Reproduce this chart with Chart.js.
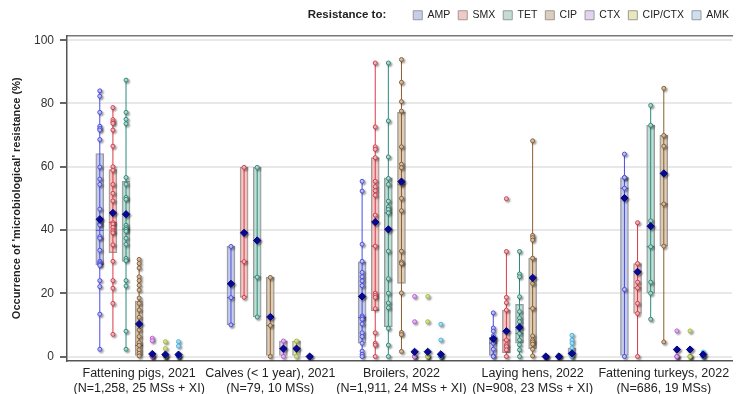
<!DOCTYPE html>
<html>
<head>
<meta charset="utf-8">
<script src="https://cdn.jsdelivr.net/npm/chart.js@4.4.1/dist/chart.umd.min.js"></script>
<style>
  html, body { margin: 0; padding: 0; background: #fff; }
  #wrap { width: 737px; height: 394px; position: relative; }
</style>
</head>
<body>
<div id="wrap"><canvas id="grafica"></canvas></div>
<script>
// Production types (x axis groups)
const groupLabels = [
    ['Fattening pigs, 2021', '(N=1,258, 25 MSs + XI)'],
    ['Calves (< 1 year), 2021', '(N=79, 10 MSs)'],
    ['Broilers, 2022', '(N=1,911, 24 MSs + XI)'],
    ['Laying hens, 2022', '(N=908, 23 MSs + XI)'],
    ['Fattening turkeys, 2022', '(N=686, 19 MSs)']
];
const drugs = ['AMP', 'SMX', 'TET', 'CIP', 'CTX', 'CIP/CTX', 'AMK'];
const yTicks = [0, 20, 40, 60, 80, 100];

// Country-level resistance (%) per group, one list per antimicrobial
const ampPoints = [
    [84.0, 82.3, 77.2, 72.8, 72.1, 71.6, 68.6, 59.9, 56.1, 54.4, 46.6, 42.9, 41.9, 41.6, 37.9, 37.4, 33.6, 30.1, 29.6, 29.2, 28.8, 24.0, 22.1, 13.4, 2.3],
    [34.8, 18.6, 10.0],
    [55.4, 52.3, 35.5, 30.1, 26.6, 25.2, 23.9, 22.4, 12.8, 12.3, 11.8, 10.3, 7.5, 6.3, 4.2, 1.7, 0.7, 0],
    [13.8, 9.0, 8.0, 6.5, 5.2, 4.2, 2.3, 0.2, 0],
    [64.0, 56.6, 56.6, 53.2, 21.2, 0]
];
const smxPoints = [
    [78.7, 74.9, 74.2, 73.7, 71.6, 66.5, 60.0, 58.9, 54.4, 51.6, 49.2, 42.3, 41.9, 40.8, 39.7, 39.1, 35.3, 30.1, 24.0, 21.6, 16.8, 7.0],
    [59.8, 30.0, 18.7],
    [92.8, 72.6, 66.3, 65.5, 62.9, 55.4, 53.7, 52.4, 51.0, 44.7, 34.9, 20.0, 19.3, 18.7, 15.1, 7.5, 4.2, 3.6, 0],
    [49.9, 33.2, 18.7, 17.0, 14.7, 5.2, 3.7, 3.1, 2.1, 0],
    [42.3, 29.4, 23.5, 21.7, 16.8, 13.6, 0]
];
const tetPoints = [
    [87.4, 77.2, 75.0, 73.6, 56.6, 54.5, 50.3, 49.7, 41.5, 40.7, 40.2, 39.6, 37.4, 35.5, 31.0, 30.3, 24.0, 22.3, 8.0, 2.3],
    [59.8, 25.1, 12.5],
    [92.8, 74.5, 63.1, 56.3, 54.4, 49.1, 47.3, 46.5, 45.4, 33.3, 24.6, 20.0, 16.9, 15.4, 8.9, 3.6, 0],
    [33.2, 26.1, 25.2, 18.9, 14.2, 12.2, 11.0, 7.3, 5.2, 3.7, 2.1, 0],
    [79.4, 73.1, 42.9, 34.7, 23.5, 20.0, 11.8]
];
const cipPoints = [
    [30.7, 29.4, 28.0, 25.2, 24.0, 22.5, 21.0, 18.5, 16.8, 14.7, 12.4, 8.4, 6.3, 4.4, 3.5, 2.1, 1.0, 0.2],
    [25.0, 9.8, 0],
    [93.9, 86.7, 80.6, 77.6, 66.3, 60.8, 59.7, 54.5, 50.0, 46.1, 33.3, 29.9, 29.4, 20.1, 7.6, 6.9, 1.6],
    [68.2, 38.3, 37.6, 36.8, 31.1, 23.1, 15.2, 6.5, 5.2, 4.6, 3.9, 2.3, 0.2],
    [84.8, 69.9, 66.5, 48.2, 34.9, 4.6]
];
const ctxPoints = [
    [5.8, 5.0, 0, 0, 0],
    [4.9, 0],
    [19.0, 11.0, 0, 0, 0],
    [0, 0, 0],
    [8.1, 0, 0, 0]
];
const cipCtxPoints = [
    [4.7, 2.5, 0, 0, 0],
    [4.9, 0],
    [19.0, 11.0, 0, 0, 0],
    [0.4, 0, 0],
    [8.1, 0, 0, 0]
];
const amkPoints = [
    [4.7, 3.3, 0, 0, 0],
    [0],
    [10.2, 5.2, 0, 0, 0],
    [6.7, 5.2, 4.2, 2.7, 0, 0],
    [1.4, 0, 0]
];
const pointLists = [ampPoints, smxPoints, tetPoints, cipPoints, ctxPoints, cipCtxPoints, amkPoints];

// Box statistics, rows = antimicrobial, columns = group
const boxLow = [
    [29.0, 10.0, 4.2, 0, 0],
    [32.8, 18.7, 14.5, 1.2, 13.6],
    [30.1, 12.5, 9.4, 4.2, 20.0],
    [0, 0, 23.1, 2.5, 34.9],
    [null, 0, null, null, null],
    [null, 0, null, null, null],
    [null, null, null, 0, null]
];
const boxHigh = [
    [64.2, 34.8, 29.9, 6.1, 56.6],
    [59.1, 59.8, 62.9, 14.7, 29.4],
    [55.4, 59.8, 56.5, 16.5, 73.1],
    [17.6, 25.0, 77.2, 31.1, 69.9],
    [null, 4.9, null, null, null],
    [null, 4.9, null, null, null],
    [null, null, null, 2.7, null]
];
const medians = [
    [39.9, 18.6, 12.3, 4.2, 53.2],
    [42.4, 30.0, 34.9, 5.2, 21.7],
    [40.2, 25.1, 45.4, 7.3, 34.7],
    [3.5, 9.8, 54.5, 15.2, 48.2],
    [null, 2.5, null, null, null],
    [null, 2.5, null, null, null],
    [null, null, null, 1.0, null]
];
const whiskerLow = [
    [2.3, 10.0, 0, 0, 0],
    [7.0, 18.7, 0, 0, 0],
    [2.3, 12.5, 0, 0, 11.8],
    [0, 0, 1.6, 0.2, 4.6],
    [null, 0, null, null, null],
    [null, 0, null, null, null],
    [null, null, null, 0, null]
];
const whiskerHigh = [
    [84.0, 34.8, 55.4, 13.8, 64.0],
    [78.7, 59.8, 92.8, 33.2, 42.3],
    [87.4, 59.8, 92.8, 33.2, 79.4],
    [30.7, 25.0, 93.9, 68.2, 84.8],
    [null, 4.9, null, null, null],
    [null, 4.9, null, null, null],
    [null, null, null, 6.7, null]
];
const means = [
    [43.4, 23.0, 19.0, 5.6, 50.1],
    [45.4, 39.1, 42.5, 8.0, 26.8],
    [45.0, 36.7, 40.2, 9.2, 41.2],
    [10.3, 12.5, 55.3, 24.9, 57.9],
    [0.8, 2.5, 1.5, 0, 2.2],
    [0.6, 2.5, 1.5, 0, 2.2],
    [0.6, 0, 0.7, 1.0, 0.6]
];

// Colours per antimicrobial
const lineColors = ['#4b4be6', '#dc3848', '#2a8c7a', '#8b5e30', '#c257e0', '#a3be2e', '#3db4e6'];
const boxColors = ['rgba(168,180,222,0.65)', 'rgba(238,170,166,0.65)', 'rgba(160,204,192,0.65)', 'rgba(204,178,148,0.65)', 'rgba(214,186,236,0.65)', 'rgba(222,220,150,0.65)', 'rgba(176,208,234,0.65)'];
const dotFills = ['#d6d6fa', '#f6d0d4', '#cfe8e2', '#e4d4c2', '#efd6f8', '#e9f0c6', '#d0eefa'];
const FONT = "'Liberation Sans', Arial, Helvetica, sans-serif";

const SLOT = 10; // x units per group, 7 used
function xPos(g, d) { return g * SLOT + d; }
const centers = groupLabels.map((_, g) => xPos(g, 3));

const datasets = [];

drugs.forEach((name, d) => {
    // IQR box
    const boxData = [];
    groupLabels.forEach((_, g) => {
        if (boxLow[d][g] == null) return;
        boxData.push({ x: xPos(g, d), y: [boxLow[d][g], boxHigh[d][g]] });
    });
    datasets.push({
        type: 'bar', label: name, isBox: true, order: 5,
        data: boxData, grouped: false, barThickness: 8,
        backgroundColor: boxColors[d], borderColor: '#9a9a9a',
        borderWidth: 1, borderSkipped: false
    });

    // whiskers
    const wData = [];
    groupLabels.forEach((_, g) => {
        if (whiskerLow[d][g] == null) return;
        wData.push({ x: xPos(g, d), y: whiskerLow[d][g] });
        wData.push({ x: xPos(g, d), y: whiskerHigh[d][g] });
        wData.push({ x: xPos(g, d), y: null });
    });
    datasets.push({
        type: 'line', label: name + ' range', order: 4,
        data: wData, borderColor: lineColors[d], borderWidth: 1,
        pointRadius: 0, spanGaps: false, fill: false
    });

    // median tick
    const mData = [];
    groupLabels.forEach((_, g) => {
        if (medians[d][g] == null) return;
        mData.push({ x: xPos(g, d), y: medians[d][g] });
    });
    datasets.push({
        type: 'scatter', label: name + ' median', order: 3,
        data: mData, pointStyle: 'line', pointRadius: 4,
        borderColor: lineColors[d], borderWidth: 1
    });

    // one dot per country
    const pData = [];
    pointLists[d].forEach((vals, g) => {
        vals.forEach(v => pData.push({ x: xPos(g, d), y: v }));
    });
    datasets.push({
        type: 'scatter', label: name + ' countries', order: 2,
        data: pData, pointStyle: 'circle', pointRadius: 2,
        borderColor: lineColors[d], backgroundColor: dotFills[d], borderWidth: 1,
        shadow: 'rgba(0,0,0,0.35)'
    });
});

// mean diamonds for all antimicrobials
const meanData = [];
drugs.forEach((_, d) => {
    groupLabels.forEach((_, g) => meanData.push({ x: xPos(g, d), y: means[d][g] }));
});
datasets.push({
    type: 'scatter', label: 'mean', order: 1,
    data: meanData, pointStyle: 'rectRot', pointRadius: 3.6,
    backgroundColor: '#0a0aa6', borderColor: '#00007a', borderWidth: 1,
    shadow: 'rgba(0,0,0,0.45)'
});

// soft drop shadow behind markers
const sombra = {
    id: 'sombra',
    beforeDatasetDraw(chart, args) {
        const ds = chart.data.datasets[args.index];
        if (!ds.shadow) return;
        const c = chart.ctx;
        c.save();
        c.shadowColor = ds.shadow;
        c.shadowOffsetX = 1.5;
        c.shadowOffsetY = 1.5;
        c.shadowBlur = 2;
    },
    afterDatasetDraw(chart, args) {
        if (chart.data.datasets[args.index].shadow) chart.ctx.restore();
    }
};

// "Resistance to:" caption in front of the legend
const tituloLeyenda = {
    id: 'tituloLeyenda',
    afterDraw(chart) {
        const boxes = chart.legend && chart.legend.legendHitBoxes;
        if (!boxes || !boxes.length) return;
        const c = chart.ctx;
        c.save();
        c.font = 'bold 11.5px ' + FONT;
        c.fillStyle = '#222';
        c.textAlign = 'right';
        c.textBaseline = 'middle';
        c.fillText('Resistance to:', boxes[0].left - 27, boxes[0].top + boxes[0].height / 2);
        c.restore();
    }
};

const ctx = document.getElementById('grafica').getContext('2d');
const grafica = new Chart(ctx, {
    type: 'scatter',
    data: { datasets: datasets },
    options: {
        responsive: true,
        maintainAspectRatio: false,
        animation: false,
        layout: { padding: { top: 2, left: 0, right: 0, bottom: 0 } },
        plugins: {
            tooltip: { enabled: false },
            legend: {
                position: 'top',
                align: 'end',
                labels: {
                    filter: (item, data) => data.datasets[item.datasetIndex].isBox,
                    boxWidth: 9,
                    boxHeight: 9,
                    padding: 8,
                    color: '#222',
                    font: { family: FONT, size: 10.5 }
                }
            }
        },
        scales: {
            x: {
                type: 'linear',
                min: -2.5,
                max: 48.2,
                offset: false,
                grid: { display: false, drawTicks: false },
                border: { color: '#555', width: 1.5 },
                afterBuildTicks: (axis) => { axis.ticks = centers.map(v => ({ value: v })); },
                afterFit: (axis) => { axis.height = 33; },
                ticks: {
                    autoSkip: false,
                    maxRotation: 0,
                    minRotation: 0,
                    padding: 5,
                    color: '#222',
                    font: { family: FONT, size: 12.5 },
                    callback: (value, index) => groupLabels[index]
                }
            },
            xTop: {
                type: 'linear',
                position: 'top',
                min: -2.5,
                max: 48.2,
                display: true,
                grid: { display: false, drawTicks: false },
                ticks: { display: false },
                border: { color: '#777', width: 1.5 },
                afterFit: (axis) => { axis.height = 5; }
            },
            y: {
                min: -1.42,
                max: 101.5,
                afterBuildTicks: (axis) => { axis.ticks = yTicks.map(v => ({ value: v })); },
                afterFit: (axis) => { axis.width = 67; },
                grid: { color: '#e8e8e8', lineWidth: 2, tickColor: '#666', tickLength: 7 },
                border: { color: '#555', width: 1.5 },
                ticks: {
                    padding: 6,
                    color: '#333',
                    font: { family: FONT, size: 12 }
                },
                title: {
                    display: true,
                    text: "Occurrence of 'microbiological' resistance (%)",
                    color: '#222',
                    font: { family: FONT, size: 11, weight: 'bold' },
                    padding: { top: 10, bottom: 4 }
                }
            }
        }
    },
    plugins: [sombra, tituloLeyenda]
});
</script>
</body>
</html>
